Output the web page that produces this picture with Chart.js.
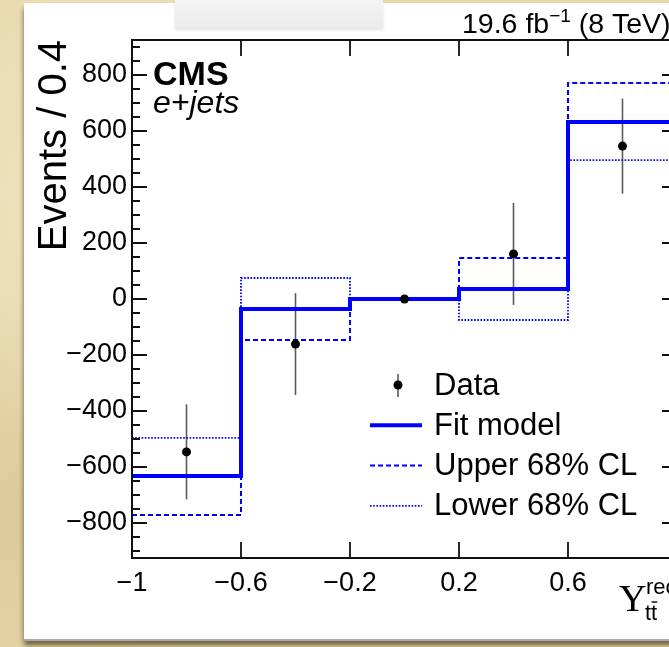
<!DOCTYPE html>
<html>
<head>
<meta charset="utf-8">
<script src="https://cdn.jsdelivr.net/npm/chart.js@4.4.1/dist/chart.umd.min.js"></script>
<style>
  html, body { margin: 0; padding: 0; width: 669px; height: 647px; overflow: hidden; }
  body { position: relative; background: #e7d7ab;
    background-image: radial-gradient(circle at 20% 30%, rgba(255,250,225,0.5), rgba(0,0,0,0) 40%),
                      radial-gradient(circle at 5% 80%, rgba(200,180,120,0.35), rgba(0,0,0,0) 30%); }
  #paper { position: absolute; left: 24px; top: 3px; width: 720px; height: 636px; background: #fff;
    box-shadow: 0 2px 1px #a8a8a8, 0 6px 5px rgba(80,70,35,0.85); }
  #tape { position: absolute; left: 175px; top: 0; width: 208px; height: 28px;
    background: linear-gradient(#f4f4f4, #ebebeb); box-shadow: 0 2px 3px rgba(0,0,0,0.12); }
  #c { position: absolute; left: 0; top: 0; }
</style>
</head>
<body>
<div id="paper"></div>
<div id="tape"></div>
<canvas id="c" width="720" height="647"></canvas>
<script>
// bins of the reconstructed asymmetry variable
const binEdges = [-1, -0.6, -0.2, 0.2, 0.6, 1];
const fitModel = [-632, -36, 0, 36, 632];
const upperCL = [-771, -146, 0, 146, 771];
const lowerCL = [-496, 75, 0, -75, 496];
// data points
const dataX = [-0.8, -0.4, 0, 0.4, 0.8];
const dataY = [-546, -161, 0, 161, 546];
const dataErr = [170, 182, 0, 182, 170];
// axes
const xTicks = [-1, -0.6, -0.2, 0.2, 0.6];
const yTicks = [-800, -600, -400, -200, 0, 200, 400, 600, 800];
const yMinorStep = 50;

const FONT = "'Liberation Sans', Arial, Helvetica, sans-serif";
const BLUE = '#0000ff';

const minus = v => String(v).replace('-', '\u2212');
const stepPoints = vals => binEdges.map((x, i) => ({ x: x, y: vals[Math.min(i, vals.length - 1)] }));

const errorBars = {
  id: 'errorBars',
  beforeDatasetsDraw(chart) {
    const { ctx, scales: { x, y } } = chart;
    ctx.save();
    ctx.strokeStyle = '#5a5a5a';
    ctx.lineWidth = 1.6;
    dataX.forEach((v, i) => {
      if (!dataErr[i]) return;
      const px = x.getPixelForValue(v);
      ctx.beginPath();
      ctx.moveTo(px, y.getPixelForValue(dataY[i] + dataErr[i]));
      ctx.lineTo(px, y.getPixelForValue(dataY[i] - dataErr[i]));
      ctx.stroke();
    });
    ctx.restore();
  }
};

const rootFrame = {
  id: 'rootFrame',
  afterDraw(chart) {
    const { ctx, chartArea: a, scales: { x, y } } = chart;
    ctx.save();
    ctx.strokeStyle = '#111';
    ctx.lineWidth = 2;
    ctx.strokeRect(a.left, a.top, a.right - a.left, a.bottom - a.top);

    // y ticks, both sides
    ctx.lineWidth = 1.8;
    ctx.beginPath();
    for (let v = -900; v <= 900; v += yMinorStep) {
      const py = y.getPixelForValue(v);
      const len = yTicks.includes(v) ? 15 : 8;
      ctx.moveTo(a.left, py); ctx.lineTo(a.left + len, py);
      ctx.moveTo(a.right, py); ctx.lineTo(a.right - len, py);
    }
    // x ticks, top and bottom
    xTicks.concat([1]).forEach(v => {
      const px = x.getPixelForValue(v);
      ctx.moveTo(px, a.bottom); ctx.lineTo(px, a.bottom - 16);
      ctx.moveTo(px, a.top); ctx.lineTo(px, a.top + 16);
    });
    ctx.stroke();

    ctx.fillStyle = '#000';
    // CMS label
    ctx.textAlign = 'left';
    ctx.textBaseline = 'alphabetic';
    ctx.font = 'bold 34px ' + FONT;
    ctx.fillText('CMS', 153, 85);
    ctx.font = 'italic 32px ' + FONT;
    ctx.fillText('e+jets', 153, 113);

    // luminosity
    ctx.font = '28.5px ' + FONT;
    let tx = 462;
    ctx.fillText('19.6 fb', tx, 33);
    tx += ctx.measureText('19.6 fb').width;
    ctx.font = '19px ' + FONT;
    ctx.fillText('\u22121', tx, 22);
    tx += ctx.measureText('\u22121').width;
    ctx.font = '28.5px ' + FONT;
    ctx.fillText(' (8 TeV)', tx, 33);

    // y title
    ctx.save();
    ctx.translate(66, a.top);
    ctx.rotate(-Math.PI / 2);
    ctx.textAlign = 'right';
    ctx.font = '40px ' + FONT;
    ctx.fillText('Events / 0.4', 0, 0);
    ctx.restore();

    // x title
    ctx.textAlign = 'left';
    ctx.font = '38px "Liberation Serif", "Times New Roman", serif';
    ctx.fillText('\u03A5', 619, 611);
    ctx.font = '22px ' + FONT;
    ctx.fillText('rec', 646, 594);
    ctx.fillText('tt', 645, 620);
    const tw = ctx.measureText('t').width;
    ctx.lineWidth = 1.5;
    ctx.beginPath();
    ctx.moveTo(645 + tw + 0.5, 602); ctx.lineTo(645 + 2 * tw, 602);
    ctx.stroke();

    // legend
    const lx = 370, lw = 52, textX = 434, y0 = 385, dy = 40.3;
    ctx.font = '31px ' + FONT;
    ctx.textBaseline = 'middle';
    chart.data.datasets.forEach((ds, i) => {
      const ly = y0 + i * dy;
      if (ds.showLine === false) {
        ctx.strokeStyle = '#5a5a5a';
        ctx.lineWidth = 1.6;
        ctx.setLineDash([]);
        ctx.beginPath();
        ctx.moveTo(lx + 28, ly - 11); ctx.lineTo(lx + 28, ly + 12);
        ctx.stroke();
        ctx.fillStyle = '#000';
        ctx.beginPath();
        ctx.arc(lx + 28, ly, 4.5, 0, Math.PI * 2);
        ctx.fill();
      } else {
        ctx.strokeStyle = ds.borderColor;
        ctx.lineWidth = ds.borderWidth;
        ctx.setLineDash(ds.borderDash || []);
        ctx.beginPath();
        ctx.moveTo(lx, ly); ctx.lineTo(lx + lw, ly);
        ctx.stroke();
      }
      ctx.setLineDash([]);
      ctx.fillStyle = '#000';
      ctx.fillText(ds.label, textX, ly + 1);
    });
    ctx.restore();
  }
};

new Chart(document.getElementById('c'), {
  type: 'line',
  data: {
    datasets: [{
      label: 'Data',
      data: dataX.map((v, i) => ({ x: v, y: dataY[i] })),
      showLine: false,
      pointRadius: 4.5,
      pointBackgroundColor: '#000',
      pointBorderWidth: 0
    }, {
      label: 'Fit model',
      data: stepPoints(fitModel),
      stepped: true,
      borderColor: BLUE,
      borderWidth: 4,
      pointRadius: 0
    }, {
      label: 'Upper 68% CL',
      data: stepPoints(upperCL),
      stepped: true,
      borderColor: BLUE,
      borderWidth: 2,
      borderDash: [5, 3],
      pointRadius: 0
    }, {
      label: 'Lower 68% CL',
      data: stepPoints(lowerCL),
      stepped: true,
      borderColor: BLUE,
      borderWidth: 1.8,
      borderDash: [1.6, 1.6],
      pointRadius: 0
    }]
  },
  options: {
    responsive: false,
    animation: false,
    layout: { padding: { left: 0, top: 40, right: 43, bottom: 0 } },
    plugins: { legend: { display: false }, tooltip: { enabled: false } },
    scales: {
      x: {
        type: 'linear', min: -1, max: 1,
        grid: { display: false, drawTicks: false },
        border: { display: false },
        afterBuildTicks: s => { s.ticks = xTicks.map(v => ({ value: v })); },
        afterFit: s => { s.height = 647 - 558; },
        ticks: { color: '#000', padding: 9, maxRotation: 0, autoSkip: false,
          font: { family: FONT, size: 27 }, callback: v => minus(v) }
      },
      y: {
        type: 'linear', min: -925, max: 925,
        grid: { display: false, drawTicks: false },
        border: { display: false },
        afterBuildTicks: s => { s.ticks = yTicks.map(v => ({ value: v })); },
        afterFit: s => { s.width = 132; },
        ticks: { color: '#000', padding: 5, autoSkip: false,
          font: { family: FONT, size: 27 }, callback: v => minus(v) }
      }
    }
  },
  plugins: [errorBars, rootFrame]
});
</script>
</body>
</html>
